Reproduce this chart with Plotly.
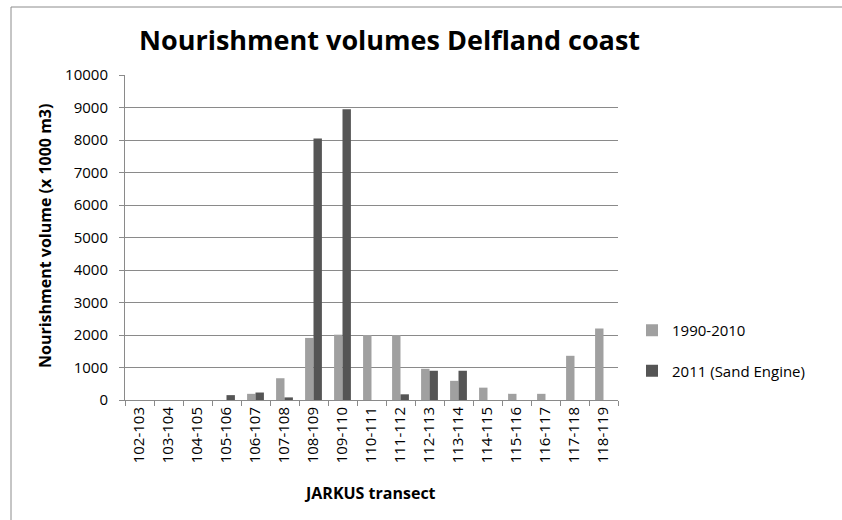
import plotly.graph_objects as go

# Transects along the Delfland coast
transects = ["102-103", "103-104", "104-105", "105-106", "106-107", "107-108",
             "108-109", "109-110", "110-111", "111-112", "112-113", "113-114",
             "114-115", "115-116", "116-117", "117-118", "118-119"]

# Nourishment volumes (x 1000 m3)
vol_1990_2010 = [0, 0, 0, 0, 190, 670, 1910, 2010, 2000, 2000, 960, 590, 380, 190, 190, 1360, 2200]
vol_2011 = [0, 0, 0, 150, 230, 80, 8050, 8950, 0, 175, 900, 900, 0, 0, 0, 0, 0]

y_ticks = [0, 1000, 2000, 3000, 4000, 5000, 6000, 7000, 8000, 9000, 10000]
y_tick_labels = [str(v) for v in y_ticks]

FONT = "Open Sans"
GRID = "#8a8a8a"

fig = go.Figure()
fig.add_trace(go.Bar(x=transects, y=vol_1990_2010, name="1990-2010",
                     marker=dict(color="#a0a0a0", line=dict(width=0)),
                     legendgroup="a"))
fig.add_trace(go.Bar(x=transects, y=vol_2011, name="2011 (Sand Engine)",
                     marker=dict(color="#555555", line=dict(width=0)),
                     legendgroup="b"))

W, H = 842, 520
L, R, T, B = 125, 618, 75, 400
pw, ph = R - L, B - T


def px_x(x):
    return (x - L) / pw


def px_y(y):
    return (B - y) / ph


fig.update_layout(
    width=W, height=H,
    margin=dict(l=L, r=W - R, t=T, b=H - B, pad=0),
    paper_bgcolor="white", plot_bgcolor="white",
    barmode="group", bargap=0.42, bargroupgap=0,
    font=dict(family=FONT, size=15, color="#000000"),
    showlegend=True,
    legend=dict(x=px_x(632), y=px_y(314), xanchor="left", yanchor="top",
                font=dict(family=FONT, size=15, color="#000000"),
                tracegroupgap=18, bgcolor="rgba(0,0,0,0)",
                itemclick=False, itemdoubleclick=False),
    xaxis=dict(type="category", tickangle=-90, showline=True, linecolor=GRID,
               linewidth=1, ticks="outside", ticklen=5, tickcolor=GRID,
               tickson="boundaries", showgrid=False,
               tickfont=dict(family=FONT, size=15, color="#000000")),
    yaxis=dict(range=[0, 10000], tickvals=y_ticks, ticktext=y_tick_labels,
               showline=True, linecolor=GRID,
               linewidth=1, ticks="outside", ticklen=5, tickcolor=GRID,
               showgrid=True, gridcolor=GRID, gridwidth=1, zeroline=False,
               ticklabelstandoff=8,
               tickfont=dict(family=FONT, size=15, color="#000000")),
    shapes=[dict(type="rect", xref="paper", yref="paper",
                 x0=px_x(11), x1=px_x(W + 20), y0=px_y(H + 20), y1=px_y(7),
                 line=dict(color="#8c8c8c", width=1), fillcolor="rgba(0,0,0,0)",
                 layer="below")],
    annotations=[
        dict(text="<b>Nourishment volumes Delfland coast</b>", xref="paper", yref="paper",
             x=px_x(389.5), y=px_y(40), xanchor="center", yanchor="middle",
             showarrow=False, font=dict(family=FONT, size=27, color="#000000")),
        dict(text="<b>Nourishment volume (x 1000 m3)</b>", xref="paper", yref="paper",
             x=px_x(45), y=px_y(236), xanchor="center", yanchor="middle",
             textangle=-90, showarrow=False,
             font=dict(family=FONT, size=16, color="#000000")),
        dict(text="<b>JARKUS transect</b>", xref="paper", yref="paper",
             x=px_x(370), y=px_y(493), xanchor="center", yanchor="middle",
             showarrow=False, font=dict(family=FONT, size=16, color="#000000")),
    ],
)

fig.write_html("out.html")
